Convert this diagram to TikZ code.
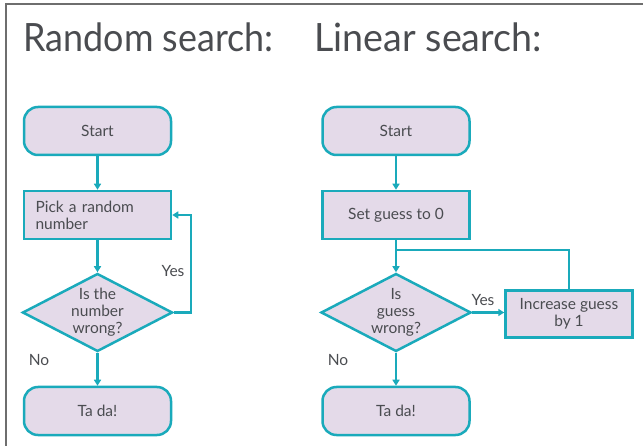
\documentclass[tikz,border=0pt]{standalone}
\usepackage{fontspec}
\setmainfont{Lato}
\newfontfamily\titlefontA[FakeStretch=0.92]{Lato}
\newfontfamily\titlefontB[FakeStretch=0.965]{Lato}
\usetikzlibrary{shapes.geometric,arrows.meta}
\definecolor{teal1}{HTML}{1AAABB}
\definecolor{lav}{HTML}{E4DAE9}
\definecolor{txt}{HTML}{4A4C50}
\definecolor{frame}{HTML}{6E6E6E}
\begin{document}
\begin{tikzpicture}[x=1pt,y=-1pt,
  every node/.style={text=txt, font=\fontsize{15.5}{17}\selectfont},
  term/.style={draw=teal1, fill=lav, line width=2.5pt, rounded corners=14pt,
    minimum width=147pt, minimum height=48pt, inner sep=0pt, align=center},
  proc/.style={draw=teal1, fill=lav, line width=2.5pt,
    minimum width=147pt, minimum height=48pt, inner sep=0pt},
  dec/.style={diamond, draw=teal1, fill=lav, line width=2.5pt, aspect=2,
    minimum width=150pt, minimum height=78pt, inner sep=0pt, align=center},
  arr/.style={draw=teal1, line width=2.2pt, -{Triangle[length=6pt,width=7pt]}},
  conn/.style={draw=teal1, line width=2.2pt},
  lbl/.style={font=\fontsize{15.5}{17}\selectfont},
  ttl/.style={anchor=base west}
]
\useasboundingbox (0,0) rectangle (643,446);
\draw[frame, line width=2pt] (643,4.5) -- (5.5,4.5) -- (5.5,446);

\node[ttl, font=\titlefontA\fontsize{39}{44}\selectfont] (t1) at (20,52) {Random search:};
\node[ttl, font=\titlefontB\fontsize{39}{44}\selectfont] (t2) at (311,52) {Linear search:};

% left flowchart
\node[term] (s1) at (97.5,131) {Start};
\node[proc, text width=124pt, align=left] (p1) at (97.5,215) {Pick a random\\number};
\node[dec] (d1) at (97.5,312.5) {Is the\\number\\wrong?};
\node[term] (e1) at (97.5,411) {Ta da!};
\coordinate (c1) at (191,312.5);
\draw[arr] (s1) -- (p1);
\draw[arr] (p1) -- (d1);
\draw[arr] (d1) -- (e1);
\draw[arr] (d1.east) -- (c1) |- (p1.east);
\node[lbl] (y1) at (173,271) {Yes};
\node[lbl] (n1) at (39,360) {No};

% right flowchart
\node[term] (s2) at (396,131) {Start};
\node[proc] (p2) at (396,215) {Set guess to 0};
\node[dec] (d2) at (396,312.5) {Is\\guess\\wrong?};
\node[term] (e2) at (396,411) {Ta da!};
\node[proc, minimum width=127pt, minimum height=47pt, align=center] (inc) at (569,314) {Increase guess\\by 1};
\coordinate (j2) at (396,250);
\draw[arr] (s2) -- (p2);
\draw[arr] (p2) -- (d2);
\draw[arr] (d2) -- (e2);
\draw[arr] (d2.east) -- (d2.east -| inc.west);
\draw[conn] (inc.north) |- (j2);
\node[lbl] (y2) at (483,300) {Yes};
\node[lbl] (n2) at (338,360) {No};
\end{tikzpicture}
\end{document}
